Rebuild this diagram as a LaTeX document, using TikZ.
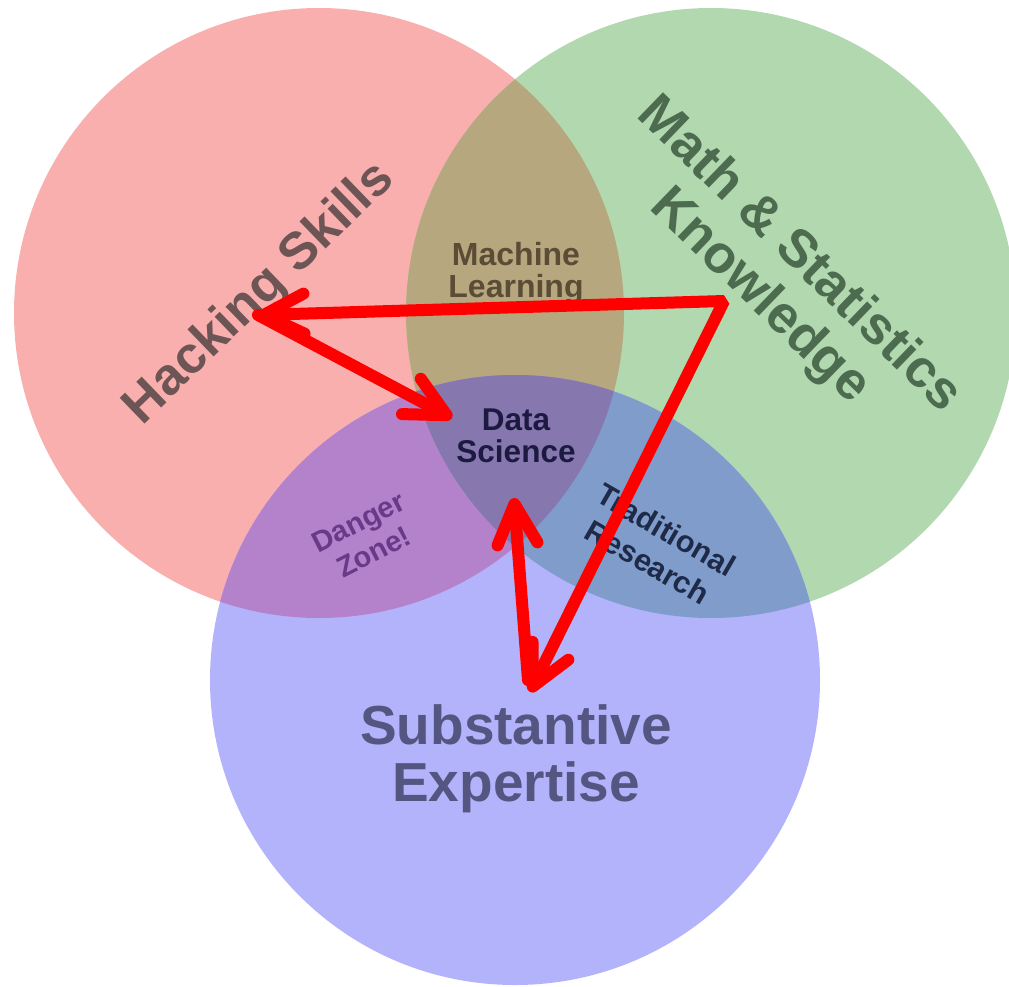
\documentclass[tikz,border=0pt]{standalone}
\usepackage{fontspec}
\setmainfont{Liberation Sans}
\usetikzlibrary{arrows.meta}

\definecolor{hackfill}{RGB}{250,175,175}
\definecolor{mathfill}{RGB}{178,216,176}
\definecolor{subfill}{RGB}{179,179,251}
\definecolor{mlfill}{RGB}{182,167,127}
\definecolor{dangerfill}{RGB}{180,130,202}
\definecolor{tradfill}{RGB}{127,156,203}
\definecolor{dsfill}{RGB}{134,119,174}
\definecolor{hacktext}{RGB}{110,85,85}
\definecolor{mathtext}{RGB}{77,107,79}
\definecolor{mltext}{RGB}{90,76,53}
\definecolor{dstext}{RGB}{28,26,64}
\definecolor{dangertext}{RGB}{106,58,138}
\definecolor{tradtext}{RGB}{30,42,72}
\definecolor{subtext}{RGB}{85,85,130}

% the three sets
\newcommand{\hackset}{(319,313) circle[radius=305pt]}
\newcommand{\mathset}{(711,313) circle[radius=305pt]}
\newcommand{\expertset}{(515,680) circle[radius=305pt]}

\tikzset{redbarb/.tip={Straight Barb[length=40pt,width=40pt,round]}}

\begin{document}
\begin{tikzpicture}[x=1pt,y=-1pt,
    redline/.style={draw=red,line width=12pt,line cap=round,line join=round},
    venntext/.style={align=center,inner sep=0pt}]
  \useasboundingbox (0,0) rectangle (1009,986);
  \fill[hackfill] \hackset;
  \fill[mathfill] \mathset;
  \fill[subfill] \expertset;
  \begin{scope}
    \clip \hackset;
    \fill[mlfill] \mathset;
    \fill[dangerfill] \expertset;
  \end{scope}
  \begin{scope}
    \clip \mathset;
    \fill[tradfill] \expertset;
  \end{scope}
  \begin{scope}
    \clip \hackset; \clip \mathset;
    \fill[dsfill] \expertset;
  \end{scope}

  \node[venntext,text=hacktext,rotate=44,
        font=\fontsize{52}{59}\selectfont\bfseries] (hacking) at (260,294) {Hacking Skills};
  \node[venntext,text=mathtext,rotate=-44,
        font=\fontsize{53}{57}\selectfont\bfseries] (math) at (779,276) {Math \& Statistics\\Knowledge};
  \node[venntext,text=subtext,
        font=\fontsize{55}{57}\selectfont\bfseries] (substantive) at (516,759) {Substantive\\Expertise};
  \node[venntext,text=mltext,
        font=\fontsize{32}{32}\selectfont\bfseries] (ml) at (516,273) {Machine\\Learning};
  \node[venntext,text=dstext,
        font=\fontsize{31.5}{32}\selectfont\bfseries] (ds) at (516,436) {Data\\Science};
  \node[venntext,text=dangertext,rotate=27,
        font=\fontsize{29}{34}\selectfont\bfseries] (danger) at (366,537) {Danger\\Zone!};
  \node[venntext,text=tradtext,rotate=-30,
        font=\fontsize{30.5}{37}\selectfont\bfseries] (trad) at (657,546) {Traditional\\Research};

  \coordinate (mathCorner) at (724,301);
  \coordinate (hackTip) at (258,315);
  \coordinate (dsTip) at (452,418);
  \coordinate (subTip) at (530,692);
  \coordinate (subFoot) at (528,680);
  \coordinate (dsFoot) at (514,498);

  \draw[redline,line join=bevel,redbarb-redbarb] (hackTip) -- (mathCorner) -- (subTip);
  \draw[redline,-redbarb] (hackTip) -- (dsTip);
  \draw[redline,-redbarb] (subFoot) -- (dsFoot);
\end{tikzpicture}
\end{document}
